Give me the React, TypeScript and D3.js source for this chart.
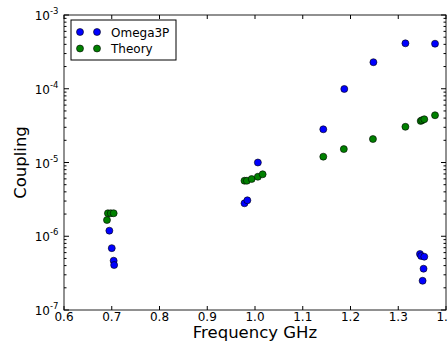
import React from "react";
import * as d3 from "d3";

const omegaFreq = [0.695, 0.700, 0.704, 0.705, 0.978, 0.984, 1.006, 1.143, 1.187, 1.248, 1.315, 1.377, 1.3455, 1.348, 1.3545, 1.353, 1.351];
const omegaCoupling = [1.19e-6, 6.9e-7, 4.66e-7, 4.07e-7, 2.8e-6, 3.07e-6, 1.0e-5, 2.82e-5, 9.93e-5, 2.29e-4, 4.13e-4, 4.08e-4, 5.74e-7, 5.4e-7, 5.28e-7, 3.63e-7, 2.49e-7];

const theoryFreq = [0.692, 0.698, 0.704, 0.690, 0.978, 0.983, 0.993, 1.006, 1.016, 1.143, 1.186, 1.247, 1.315, 1.347, 1.350, 1.3545, 1.377];
const theoryCoupling = [2.05e-6, 2.05e-6, 2.05e-6, 1.66e-6, 5.66e-6, 5.66e-6, 5.97e-6, 6.41e-6, 6.92e-6, 1.2e-5, 1.52e-5, 2.08e-5, 3.05e-5, 3.66e-5, 3.75e-5, 3.86e-5, 4.37e-5];

const xTicks = [0.6, 0.7, 0.8, 0.9, 1.0, 1.1, 1.2, 1.3, 1.4];
const yExponents = [-7, -6, -5, -4, -3];
const seriesNames = ["Omega3P", "Theory"];
const seriesColors = ["#0000ff", "#008000"];

export default function App() {
  const W = 448, H = 344;
  const left = 64, right = 446, top = 15, bottom = 310;
  const x = d3.scaleLinear().domain([0.6, 1.4]).range([left, right]);
  const y = d3.scaleLog().domain([1e-7, 1e-3]).range([bottom, top]);
  const font = "DejaVu Sans, sans-serif";

  const minor: number[] = [];
  for (let e = -7; e < -3; e++) {
    for (let m = 2; m <= 9; m++) minor.push(m * Math.pow(10, e));
  }

  const series = [
    { f: omegaFreq, c: omegaCoupling },
    { f: theoryFreq, c: theoryCoupling },
  ];

  return (
    <svg width={W} height={H} style={{ position: "absolute", left: 0, top: 0, background: "#fff" }} fontFamily={font}>
      <rect x={0} y={0} width={W} height={H} fill="#fff" />
      {series.map((s, si) =>
        s.f.map((fv, i) => (
          <circle key={`${si}-${i}`} cx={x(fv)} cy={y(s.c[i])} r={3.5} fill={seriesColors[si]} stroke="#000" strokeWidth={0.6} />
        ))
      )}
      <rect x={left} y={top} width={right - left} height={bottom - top} fill="none" stroke="#222" strokeWidth={1} />
      {xTicks.map((t) => (
        <g key={`xt${t}`}>
          <line x1={x(t)} x2={x(t)} y1={bottom} y2={bottom - 4} stroke="#000" />
          <line x1={x(t)} x2={x(t)} y1={top} y2={top + 4} stroke="#000" />
          <text x={x(t)} y={321} fontSize={12} textAnchor="middle" fill="#000">{t.toFixed(1)}</text>
        </g>
      ))}
      {yExponents.map((e) => {
        const yy = y(Math.pow(10, e));
        return (
          <g key={`yt${e}`}>
            <line x1={left} x2={left + 5} y1={yy} y2={yy} stroke="#000" />
            <line x1={right} x2={right - 5} y1={yy} y2={yy} stroke="#000" />
            <text x={50} y={yy + 5} fontSize={12} textAnchor="end" fill="#000">10</text>
            <text x={50} y={yy - 1} fontSize={8.5} textAnchor="start" fill="#000">{`-${-e}`}</text>
          </g>
        );
      })}
      {minor.map((v, i) => (
        <g key={`mn${i}`}>
          <line x1={left} x2={left + 2.5} y1={y(v)} y2={y(v)} stroke="#000" />
          <line x1={right} x2={right - 2.5} y1={y(v)} y2={y(v)} stroke="#000" />
        </g>
      ))}
      <text x={(left + right) / 2} y={338} fontSize={16.5} textAnchor="middle" fill="#000">Frequency GHz</text>
      <text transform={`translate(26, ${(top + bottom) / 2}) rotate(-90)`} fontSize={16.5} textAnchor="middle" fill="#000">Coupling</text>
      <rect x={71} y={20} width={105} height={40} fill="#fff" stroke="#000" strokeWidth={1} />
      {seriesNames.map((n, i) => (
        <g key={n}>
          <circle cx={80} cy={32 + i * 16.5} r={3.5} fill={seriesColors[i]} stroke="#000" strokeWidth={0.6} />
          <circle cx={97} cy={32 + i * 16.5} r={3.5} fill={seriesColors[i]} stroke="#000" strokeWidth={0.6} />
          <text x={111} y={36.5 + i * 16.5} fontSize={12} fill="#000">{n}</text>
        </g>
      ))}
    </svg>
  );
}
